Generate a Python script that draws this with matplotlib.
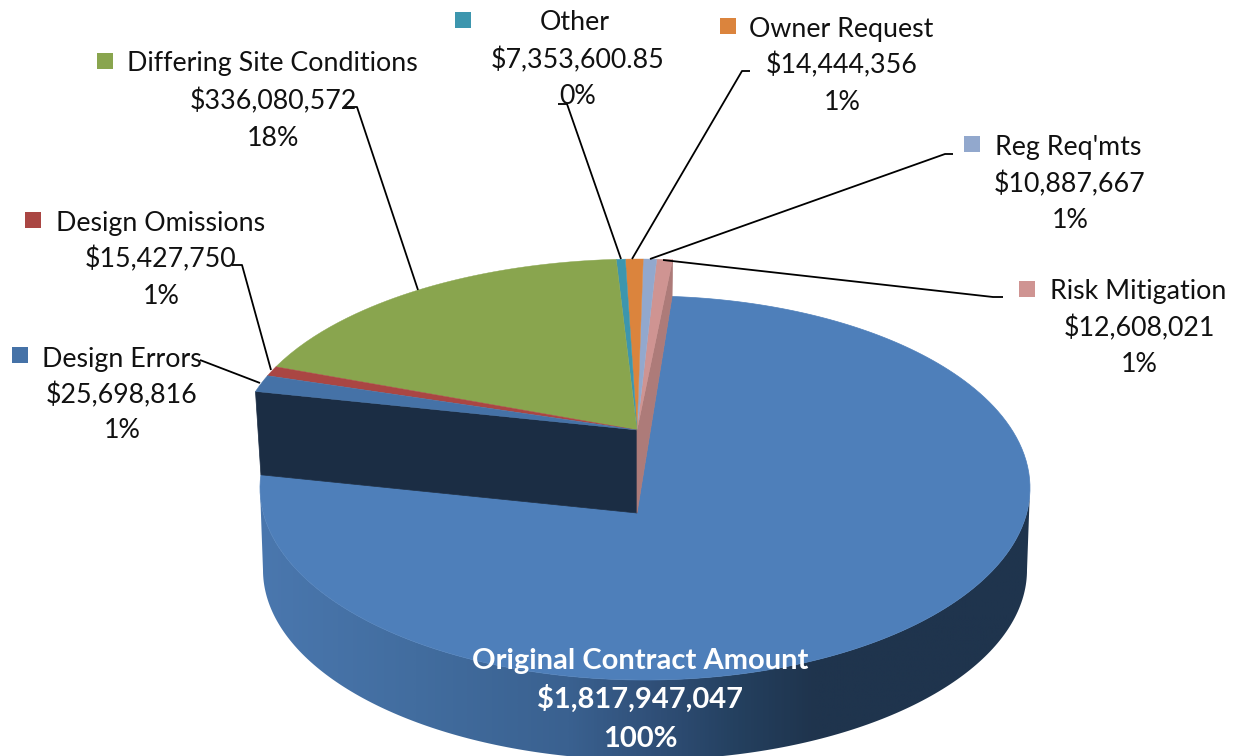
import numpy as np
import matplotlib
matplotlib.use("Agg")
import matplotlib.pyplot as plt
from matplotlib.colors import LinearSegmentedColormap
from matplotlib.patches import Polygon

plt.rcParams['font.family'] = ['Lato', 'DejaVu Sans']

# data, the raised group listed from the far right end round to the left
names = ["Risk Mitigation", "Reg Req'mts", "Owner Request", "Other",
         "Differing Site Conditions", "Design Omissions", "Design Errors"]
values = [12608021, 10887667, 14444356, 7353600.85, 336080572, 15427750, 25698816]
amounts = ["$12,608,021", "$10,887,667", "$14,444,356", "$7,353,600.85",
           "$336,080,572", "$15,427,750", "$25,698,816"]
percents = ["1%", "1%", "1%", "0%", "18%", "1%", "1%"]
colors = ["#cf9492", "#92a8cd", "#db843d", "#3d96ae", "#89a54e", "#aa4643", "#4572a7"]

main_name = "Original Contract Amount"
main_value = 1817947047
main_amount = "$1,817,947,047"
main_percent = "100%"

# label layout: key x, key y, name x, name y, centre x for the lower lines, y step
label_pos = [
    (1019, 281, 1050, 290, 1139, 36.5),
    (964, 136, 995, 146, 1070, 36.5),
    (720, 18, 749, 27, 842, 36.5),
    (455, 12, 575, 21, 578, 37),
    (97, 53, 127, 62, 273, 37),
    (25, 212, 56, 221, 161, 36.5),
    (12, 347, 42, 357, 122, 36),
]
leaders = [
    [(1003, 297), (993, 297), (663, 260)],
    [(953, 154), (945, 154), (650, 259)],
    [(750, 71), (742, 71), (632, 259)],
    [(558, 104), (567, 104), (621, 259)],
    [(345, 107), (357, 107), (418, 290)],
    [(232, 265), (242, 265), (271, 370)],
    [(200, 360), (260, 383)],
]

# pie geometry in pixels
TOP_C, TOP_A, TOP_B = (645, 488), 385, 192     # big slice ellipse
LOW_C, LOW_A, LOW_B = (645, 570), 382, 190     # bottom edge of its side wall
GRP_C, GRP_A, GRP_B = (640, 446), 402, 187     # raised group ellipse
GRP_APEX = (637, 430)
TOP_APEX = (637, 513)
# true sweep angle -> screen direction, Excel's perspective is not a plain squash
CAL_TRUE = [0, 7.3, 61.3, 68]
CAL_SCREEN = [11.8, -7, -80.1, -84.3]
MAIN_START, MAIN_END = 9.2, 275.8
TEXT_DY = 2


def ray_hit(apex, centre, a, b, deg):
    # where the ray from apex at screen direction deg (0 = up, + = right) meets the ellipse
    t = np.radians(deg)
    dx, dy = np.sin(t), -np.cos(t)
    ox, oy = apex[0] - centre[0], apex[1] - centre[1]
    qa = (dx / a) ** 2 + (dy / b) ** 2
    qb = 2 * (ox * dx / a ** 2 + oy * dy / b ** 2)
    qc = (ox / a) ** 2 + (oy / b) ** 2 - 1
    r = (-qb + np.sqrt(qb ** 2 - 4 * qa * qc)) / (2 * qa)
    return apex[0] + r * dx, apex[1] + r * dy


def arc(apex, centre, a, b, d0, d1, n=120):
    return [ray_hit(apex, centre, a, b, d) for d in np.linspace(d0, d1, n)]


fig = plt.figure(figsize=(12.33, 7.56), dpi=100)
ax = fig.add_axes([0, 0, 1, 1])
ax.set_xlim(0, 1233)
ax.set_ylim(756, 0)
ax.axis("off")

# side wall of the big slice, gradient clipped to the ring shape
t = np.linspace(0, np.pi, 200)
upper = np.column_stack([TOP_C[0] + TOP_A * np.cos(t), TOP_C[1] + TOP_B * np.sin(t)])
lower = np.column_stack([LOW_C[0] + LOW_A * np.cos(t), LOW_C[1] + LOW_B * np.sin(t)])
wall = Polygon(np.vstack([upper, lower[::-1]]), closed=True, fc="none", ec="none")
ax.add_patch(wall)
cmap = LinearSegmentedColormap.from_list(
    "wall", [(0, "#4a77ae"), (0.2, "#426d9f"), (0.4, "#3a6190"), (0.52, "#2f4e76"),
             (0.62, "#24405f"), (0.72, "#1f344d"), (1, "#1f344d")])
grad = np.linspace(0, 1, 512).reshape(1, -1)
im = ax.imshow(grad, cmap=cmap, extent=(260, 1031, 756, 480), aspect="auto", zorder=1)
im.set_clip_path(wall)
ax.set_xlim(0, 1233)
ax.set_ylim(756, 0)

# big slice top
main_arc = arc(TOP_APEX, TOP_C, TOP_A, TOP_B, MAIN_START, MAIN_END, 300)
ax.add_patch(Polygon([TOP_APEX] + main_arc, closed=True, fc="#4e7fba", ec="#4e7fba", lw=0.5, zorder=2))

# raised group: boundaries come from the cumulated values
scale = 360 / (sum(values) + main_value)
cum = np.concatenate([[0], np.cumsum(values)]) * scale
dirs = np.interp(cum, CAL_TRUE, CAL_SCREEN)

left_end = ray_hit(GRP_APEX, GRP_C, GRP_A, GRP_B, dirs[-1])
right_end = ray_hit(GRP_APEX, GRP_C, GRP_A, GRP_B, dirs[0])
ax.add_patch(Polygon([left_end, GRP_APEX, TOP_APEX, main_arc[-1]], closed=True,
                     fc="#1b2d44", ec="#1b2d44", lw=0.5, zorder=3))
ax.add_patch(Polygon([GRP_APEX, right_end, main_arc[0], TOP_APEX], closed=True,
                     fc="#ad7b79", ec="#ad7b79", lw=0.5, zorder=3))

for i, c in enumerate(colors):
    pts = arc(GRP_APEX, GRP_C, GRP_A, GRP_B, dirs[i], dirs[i + 1], 60)
    ax.add_patch(Polygon([GRP_APEX] + pts, closed=True, fc=c, ec=c, lw=0.3, zorder=4))

# labels
FS = 19.3
for i, name in enumerate(names):
    kx, ky, nx, ny, cx, step = label_pos[i]
    ny = ny + TEXT_DY
    ax.add_patch(Polygon([(kx, ky), (kx + 16, ky), (kx + 16, ky + 16), (kx, ky + 16)],
                         closed=True, fc=colors[i], ec="none", zorder=5))
    ha = "center" if name == "Other" else "left"
    ax.text(nx, ny, name, fontsize=FS, ha=ha, va="center", color="#111111", zorder=6)
    ax.text(cx, ny + step, amounts[i], fontsize=FS, ha="center", va="center", color="#111111", zorder=6)
    ax.text(cx, ny + 2 * step, percents[i], fontsize=FS, ha="center", va="center", color="#111111", zorder=6)
    xs, ys = zip(*leaders[i])
    ax.plot(xs, ys, color="black", lw=1.3, zorder=5, solid_capstyle="butt")

BOLD_FS = 21
ax.text(640, 659 + TEXT_DY, main_name, fontsize=BOLD_FS, fontweight="bold", ha="center", va="center", color="white", zorder=6)
ax.text(640, 697 + TEXT_DY, main_amount, fontsize=BOLD_FS, fontweight="bold", ha="center", va="center", color="white", zorder=6)
ax.text(640, 737 + TEXT_DY, main_percent, fontsize=BOLD_FS, fontweight="bold", ha="center", va="center", color="white", zorder=6)

plt.savefig("out.png", dpi=100)
plt.close()
